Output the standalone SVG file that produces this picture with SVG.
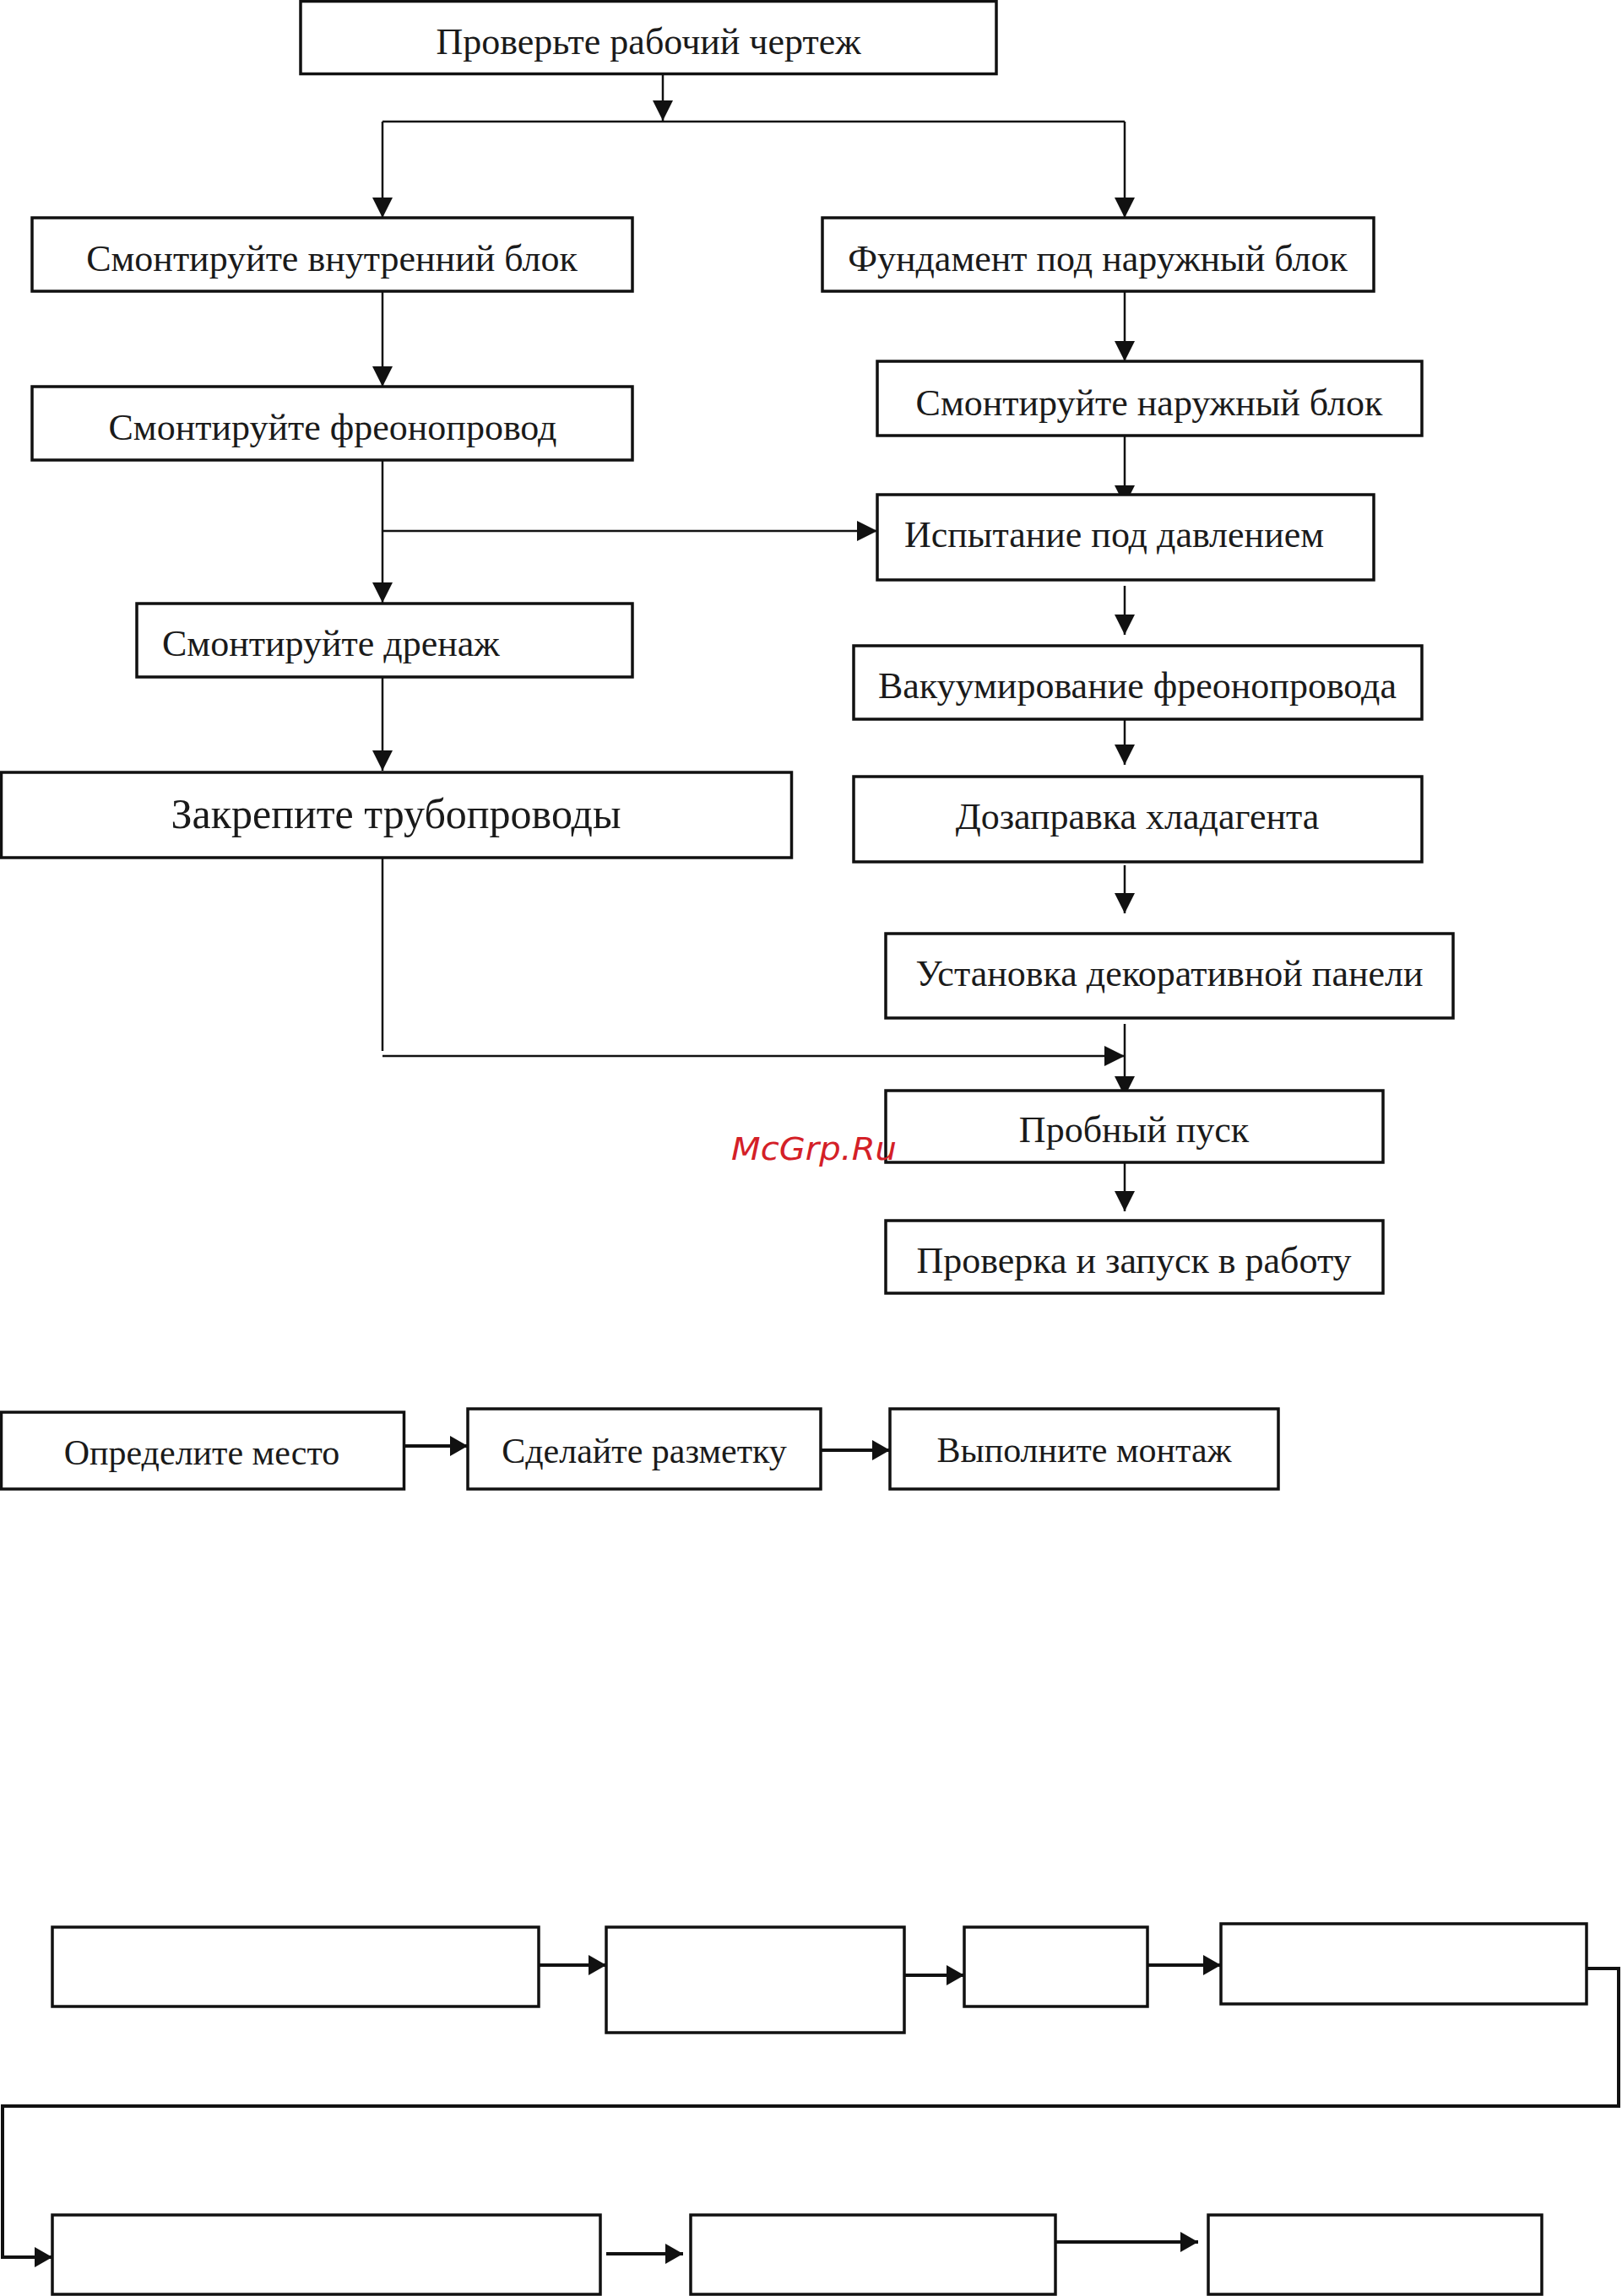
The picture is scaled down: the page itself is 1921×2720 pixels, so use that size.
<svg xmlns="http://www.w3.org/2000/svg" width="1921" height="2720" viewBox="0 0 1921 2720">
<style>
.box{fill:#fff;stroke:#111;stroke-width:3.5}
.t{font-family:"Liberation Serif","Times New Roman",serif;font-size:44px;fill:#1a1a1a;text-anchor:middle}
.s{text-anchor:start}
.big{font-size:50px}
.sm{font-size:42px}
.c{fill:none;stroke:#111;stroke-width:2.5}
.c2{fill:none;stroke:#111;stroke-width:4}
.wm{font-family:"DejaVu Sans",sans-serif;font-style:oblique;font-size:38px;fill:#d42027}
</style>
<defs>
<marker id="ah" markerUnits="userSpaceOnUse" markerWidth="24" markerHeight="24" refX="24" refY="12" orient="auto">
<path d="M0,0 L24,12 L0,24 z" fill="#111"/>
</marker>
<marker id="ah2" markerUnits="userSpaceOnUse" markerWidth="22" markerHeight="24" refX="21" refY="12" orient="auto">
<path d="M0,0 L21,12 L0,24 z" fill="#111"/>
</marker>
</defs>
<rect width="1921" height="2720" fill="#fff"/>
<g id="connectors">
<line class="c" x1="785" y1="87" x2="785" y2="143" marker-end="url(#ah)"/>
<line class="c" x1="453" y1="144" x2="1332" y2="144" stroke-width="3"/>
<line class="c" x1="453" y1="144" x2="453" y2="258" marker-end="url(#ah)"/>
<line class="c" x1="1332" y1="144" x2="1332" y2="258" marker-end="url(#ah)"/>
<line class="c" x1="453" y1="345" x2="453" y2="458" marker-end="url(#ah)"/>
<line class="c" x1="1332" y1="345" x2="1332" y2="428" marker-end="url(#ah)"/>
<line class="c" x1="453" y1="545" x2="453" y2="714" marker-end="url(#ah)"/>
<line class="c" x1="453" y1="629" x2="1039" y2="629" marker-end="url(#ah)"/>
<line class="c" x1="1332" y1="516" x2="1332" y2="599" marker-end="url(#ah)"/>
<line class="c" x1="1332" y1="694" x2="1332" y2="752" marker-end="url(#ah)"/>
<line class="c" x1="1332" y1="848" x2="1332" y2="906" marker-end="url(#ah)"/>
<line class="c" x1="1332" y1="1025" x2="1332" y2="1082" marker-end="url(#ah)"/>
<line class="c" x1="453" y1="802" x2="453" y2="913" marker-end="url(#ah)"/>
<line class="c" x1="453" y1="1016" x2="453" y2="1245"/>
<line class="c" x1="453" y1="1251" x2="1332" y2="1251" stroke-width="3" marker-end="url(#ah)"/>
<line class="c" x1="1332" y1="1213" x2="1332" y2="1299" marker-end="url(#ah)"/>
<line class="c" x1="1332" y1="1377" x2="1332" y2="1435" marker-end="url(#ah)"/>
<line class="c2" x1="478" y1="1713" x2="554" y2="1713" marker-end="url(#ah2)"/>
<line class="c2" x1="972" y1="1718" x2="1054" y2="1718" marker-end="url(#ah2)"/>
<line class="c2" x1="638" y1="2328" x2="718" y2="2328" marker-end="url(#ah2)"/>
<line class="c2" x1="1071" y1="2340" x2="1142" y2="2340" marker-end="url(#ah2)"/>
<line class="c2" x1="1359" y1="2328" x2="1446" y2="2328" marker-end="url(#ah2)"/>
<polyline class="c2" points="1879,2332 1917,2332 1917,2495 3,2495 3,2674 62,2674" marker-end="url(#ah2)"/>
<line class="c2" x1="718" y1="2670" x2="809" y2="2670" marker-end="url(#ah2)"/>
<line class="c2" x1="1250" y1="2656" x2="1419" y2="2656" marker-end="url(#ah2)"/>
</g>
<g id="n1"><rect class="box" x="356" y="1.5" width="824" height="86"/><text class="t" x="768" y="64">Проверьте рабочий чертеж</text></g>
<g id="n2"><rect class="box" x="38" y="258" width="711" height="87"/><text class="t" x="393" y="321">Смонтируйте внутренний блок</text></g>
<g id="n3"><rect class="box" x="974" y="258" width="653" height="87"/><text class="t" x="1300" y="321">Фундамент под наружный блок</text></g>
<g id="n4"><rect class="box" x="38" y="458" width="711" height="87"/><text class="t" x="394" y="521">Смонтируйте фреонопровод</text></g>
<g id="n5"><rect class="box" x="1039" y="428" width="645" height="88"/><text class="t" x="1361" y="492">Смонтируйте наружный блок</text></g>
<g id="n6"><rect class="box" x="1039" y="586" width="588" height="101"/><text class="t s" x="1071" y="648">Испытание под давлением</text></g>
<g id="n7"><rect class="box" x="162" y="715" width="587" height="87"/><text class="t s" x="192" y="777">Смонтируйте дренаж</text></g>
<g id="n8"><rect class="box" x="1011" y="765" width="673" height="87"/><text class="t" x="1347" y="827">Вакуумирование фреонопровода</text></g>
<g id="n9"><rect class="box" x="1011" y="920" width="673" height="101"/><text class="t" x="1347" y="982">Дозаправка хладагента</text></g>
<g id="n10"><rect class="box" x="1.5" y="915" width="936" height="101"/><text class="t big" x="469" y="981">Закрепите трубопроводы</text></g>
<g id="n11"><rect class="box" x="1049" y="1106" width="672" height="100"/><text class="t" x="1385" y="1168">Установка декоративной панели</text></g>
<g id="n12"><rect class="box" x="1049" y="1292" width="589" height="85"/><text class="t" x="1343" y="1353">Пробный пуск</text></g>
<g id="n13"><rect class="box" x="1049" y="1446" width="589" height="86"/><text class="t" x="1343" y="1508">Проверка и запуск в работу</text></g>
<g id="n14"><rect class="box" x="1.5" y="1673" width="477" height="91"/><text class="t sm" x="239" y="1735">Определите место</text></g>
<g id="n15"><rect class="box" x="554" y="1669" width="418" height="95"/><text class="t sm" x="763" y="1733">Сделайте разметку</text></g>
<g id="n16"><rect class="box" x="1054" y="1669" width="460" height="95"/><text class="t sm" x="1284" y="1732">Выполните монтаж</text></g>
<g id="b1"><rect class="box" x="62" y="2283" width="576" height="94"/></g>
<g id="b2"><rect class="box" x="718" y="2283" width="353" height="125"/></g>
<g id="b3"><rect class="box" x="1142" y="2283" width="217" height="94"/></g>
<g id="b4"><rect class="box" x="1446" y="2279" width="433" height="95"/></g>
<g id="b5"><rect class="box" x="62" y="2624" width="649" height="94"/></g>
<g id="b6"><rect class="box" x="818" y="2624" width="432" height="94"/></g>
<g id="b7"><rect class="box" x="1431" y="2624" width="395" height="94"/></g>
<text class="wm" x="866" y="1374" textLength="196" lengthAdjust="spacingAndGlyphs">McGrp.Ru</text>
</svg>
